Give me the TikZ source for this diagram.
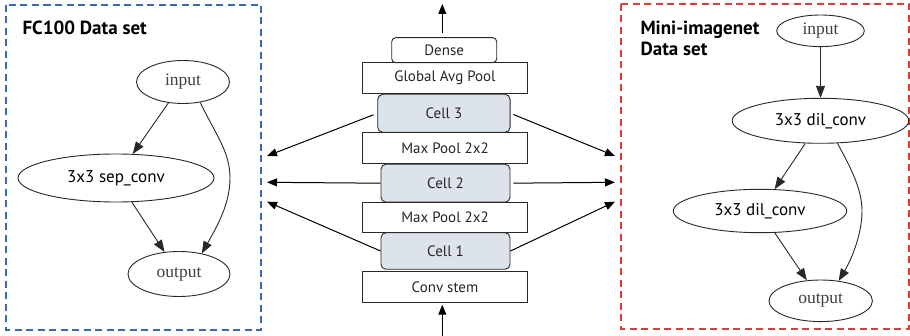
\documentclass[tikz,border=0pt]{standalone}
\usepackage{fontspec}
\setmainfont{Liberation Serif}
\setsansfont{PT Sans}
\usetikzlibrary{arrows.meta,shapes.geometric}
\definecolor{fcblue}{RGB}{58,106,180}
\definecolor{mired}{RGB}{226,58,52}
\definecolor{cellfill}{RGB}{220,227,235}
\definecolor{edge}{RGB}{40,40,40}
\tikzset{
  layer/.style={draw=edge, line width=0.9pt, minimum height=#1, inner sep=0pt,
    font=\sffamily\fontsize{15}{17}\selectfont, text=black!85},
  cellbox/.style={layer=38, rounded corners=5pt, fill=cellfill},
  opnode/.style={draw=edge, ellipse, line width=0.9pt, inner sep=0pt},
  sans/.style={font=\sffamily\fontsize{17}{19}\selectfont},
  serif/.style={font=\rmfamily\fontsize{17.5}{19}\selectfont, text=black!75},
  gedge/.style={-{Triangle[length=12pt,width=9pt,fill=edge]}, line width=0.9pt, draw=edge},
  sidearrow/.style={-{Triangle[length=10pt,width=8pt,fill=black]}, line width=1pt, draw=black},
  frame/.style={line width=2pt, dash pattern=on 7pt off 4.5pt},
  title/.style={font=\sffamily\bfseries\fontsize{19}{21}\selectfont, anchor=base west}
}
\begin{document}
\begin{tikzpicture}[x=1pt,y=-1pt]
\useasboundingbox (0,0) rectangle (910,336);
\fill[white] (0,0) rectangle (910,336);

% dataset frames
\draw[frame, fcblue] (6,5) rectangle (261,330);
\draw[frame, mired] (621,4) rectangle (909,329);
\node[title] (t1) at (19,35) {FC100 Data set};
\node[title] (t2) at (637,35) {Mini-imagenet};
\node[title] (t3) at (637,55.7) {Data set};

% network stack
\node[layer=25, minimum width=105, rounded corners=4pt] (dense) at (444.2,50.2) {Dense};
\node[layer=30.6, minimum width=165.4] (gap) at (445,78) {Global Avg Pool};
\node[cellbox, minimum width=132.3] (c3) at (443.9,113.3) {Cell 3};
\node[layer=31.3, minimum width=165.4] (mp2) at (445,148.3) {Max Pool 2x2};
\node[cellbox, minimum width=129] (c2) at (445.5,183.2) {Cell 2};
\node[layer=30.4, minimum width=165.4] (mp1) at (445,217.5) {Max Pool 2x2};
\node[cellbox, minimum width=129, minimum height=36.6] (c1) at (445.5,251) {Cell 1};
\node[layer=30.6, minimum width=165.4] (stem) at (445,287) {Conv stem};

\coordinate (top) at (442.3,4);
\coordinate (bot) at (442.3,336);
\draw[sidearrow, shorten <=4pt] (dense.north -| top) -- (top);
\draw[sidearrow, shorten >=2pt] (bot) -- (stem.south -| bot);

% arrows to both frames
\coordinate (l3) at (267,156);
\coordinate (l2) at (267,182.3);
\coordinate (l1) at (267,201.7);
\coordinate (r3) at (615,156);
\coordinate (r2) at (615,182.3);
\coordinate (r1) at (615,201.7);
\draw[sidearrow, shorten <=4pt] (c3.west) -- (l3);
\draw[sidearrow, shorten <=3pt] (c3.east) -- (r3);
\draw[sidearrow] (c2.west) -- (l2);
\draw[sidearrow, shorten <=3pt] (c2.east) -- (r2);
\draw[sidearrow] (c1.west) -- (l1);
\draw[sidearrow] (c1.east) -- (r1);

% FC100 cell
\node[opnode, serif, minimum width=93, minimum height=43] (in1) at (183,82) {input};
\node[opnode, sans, minimum width=196, minimum height=48] (sep) at (116,178) {3x3 sep\_conv};
\node[opnode, serif, minimum width=102, minimum height=45] (out1) at (179,274) {output};
\draw[gedge] (in1) -- (sep);
\draw[gedge] (sep) -- (out1);
\draw[gedge] (in1.-50) .. controls (216,135) and (230,152) .. (230,178)
  .. controls (230,205) and (216,228) .. (out1.42);

% Mini-imagenet cell
\node[opnode, serif, minimum width=87.6, minimum height=31.6] (in2) at (820.5,30.8) {input};
\node[opnode, sans, minimum width=176.6, minimum height=45] (d1) at (820.5,120.8) {3x3 dil\_conv};
\node[opnode, sans, minimum width=173.4, minimum height=43.4] (d2) at (760,211) {3x3 dil\_conv};
\node[opnode, serif, minimum width=103.4, minimum height=41.6] (out2) at (820.7,300.8) {output};
\draw[gedge] (in2) -- (d1);
\draw[gedge] (d1) -- (d2);
\draw[gedge] (d2) -- (out2);
\draw[gedge] (d1.-53) .. controls (852,170) and (862,190) .. (862,211)
  .. controls (862,236) and (850,262) .. (out2.48);
\end{tikzpicture}
\end{document}
